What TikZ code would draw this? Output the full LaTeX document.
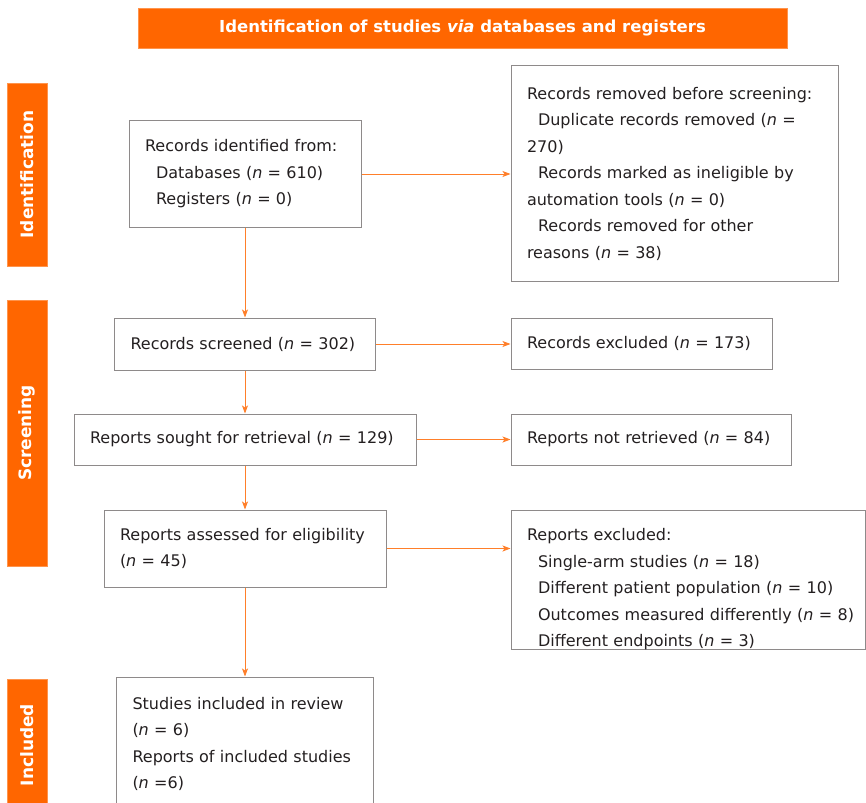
\documentclass[tikz,border=0pt]{standalone}
\usepackage{fontspec}
\setmainfont{DejaVu Sans}
\usepackage{xcolor}
\usepackage{tikz}
\usetikzlibrary{arrows.meta}
\definecolor{phaseorange}{HTML}{FF6600}
\definecolor{flowline}{HTML}{FF7F2A}
\definecolor{boxrule}{HTML}{8E8A8A}
\definecolor{boxtext}{HTML}{231F20}

\begin{document}
\begin{tikzpicture}[x=1pt,y=-1pt,
      box/.style={draw=boxrule,line width=1pt,inner xsep=16pt,inner ysep=0pt,
                  align=left,text=boxtext,font=\fontsize{16}{26.5}\selectfont},
      phase/.style={fill=phaseorange,draw=phaseorange!70,line width=0.5pt,text=white,rotate=90,
                    minimum height=40pt,inner sep=0pt,font=\bfseries\fontsize{17}{20}\selectfont},
      flow/.style={draw=flowline,line width=0.9pt,-{Stealth[length=8pt,width=6pt,inset=2pt]}}]
    \useasboundingbox (0,0) rectangle (866,802);
    % banner and phase bars
    \node[fill=phaseorange,draw=phaseorange!70,line width=0.5pt,text=white,
          minimum width=649pt,minimum height=40pt,inner sep=0pt,
          font=\bfseries\fontsize{16.5}{20}\selectfont] (title) at (462.5,28)
          {Identification of studies \textit{via} databases and registers};
    \node[phase,minimum width=183pt] (pident) at (27,174.5) {Identification};
    \node[phase,minimum width=266pt] (pscreen) at (27,433) {Screening};
    \node[phase,minimum width=132pt] (pincl) at (27,745) {Included};
    % left column
    \node[box,text width=200pt,minimum height=106pt] (found) at (245,174)
      {Records identified from:\\
       \hspace*{11pt}Databases (\textit{n} = 610)\\
       \hspace*{11pt}Registers (\textit{n} = 0)};
    \node[box,text width=229pt,minimum height=52pt] (screened) at (245,344)
      {Records screened (\textit{n} = 302)};
    \node[box,text width=310pt,minimum height=51pt] (sought) at (245,439.5)
      {Reports sought for retrieval (\textit{n} = 129)};
    \node[box,text width=250pt,minimum height=77pt] (assessed) at (245,548.5)
      {Reports assessed for eligibility\\(\textit{n} = 45)};
    \node[box,text width=225pt,minimum height=134pt] (included) at (245,744)
      {Studies included in review\\(\textit{n} = 6)\\
       Reports of included studies\\(\textit{n} =6)};
    % right column
    \node[box,text width=295pt,minimum height=215pt] (removed) at (674.5,173.5)
      {Records removed before screening:\\
       \hspace*{11pt}Duplicate records removed (\textit{n} =\\
       270)\\
       \hspace*{11pt}Records marked as ineligible by\\
       automation tools (\textit{n} = 0)\\
       \hspace*{11pt}Records removed for other\\
       reasons (\textit{n} = 38)};
    \node[box,text width=229pt,minimum height=51pt] (rexcl) at (641.5,343.5)
      {Records excluded (\textit{n} = 173)};
    \node[box,text width=248pt,minimum height=51pt] (notret) at (651,439.5)
      {Reports not retrieved (\textit{n} = 84)};
    \node[box,text width=322pt,anchor=north] (repexcl) at (688,510)
      {\rule{0pt}{30pt}Reports excluded:\\
       \hspace*{11pt}Single-arm studies (\textit{n} = 18)\\
       \hspace*{11pt}Different patient population (\textit{n} = 10)\\
       \hspace*{11pt}\mbox{Outcomes measured differently (\textit{n} = 8)}\\
       \hspace*{11pt}Different endpoints (\textit{n} = 3)};
    % arrows
    \draw[flow] (found) -- (screened);
    \draw[flow] (screened) -- (sought);
    \draw[flow] (sought) -- (assessed);
    \draw[flow] (assessed) -- (included);
    \draw[flow] (found.east) -- (found.east -| removed.west);
    \draw[flow] (screened.east) -- (screened.east -| rexcl.west);
    \draw[flow] (sought.east) -- (sought.east -| notret.west);
    \draw[flow] (assessed.east) -- (assessed.east -| repexcl.west);
  \end{tikzpicture}
\end{document}
